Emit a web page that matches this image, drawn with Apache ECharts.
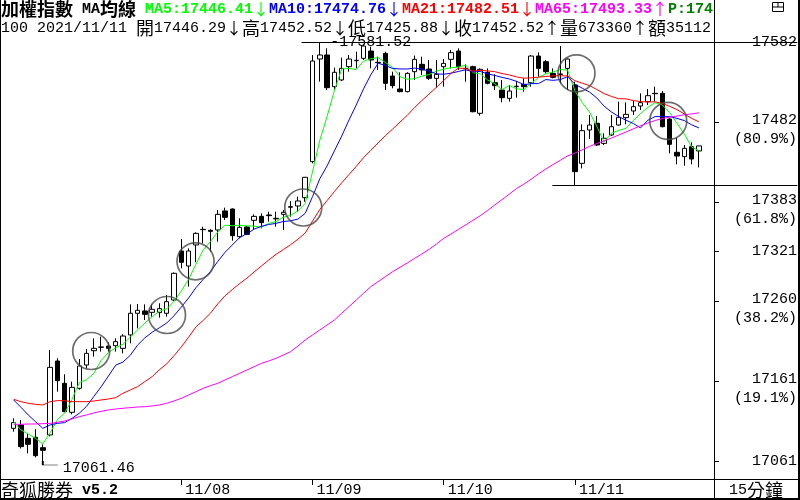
<!DOCTYPE html>
<html>
<head>
<meta charset="utf-8">
<title>加權指數 15分鐘</title>
<script src="https://cdn.jsdelivr.net/npm/echarts@6/dist/echarts.min.js"></script>
<style>
  html, body { margin: 0; padding: 0; background: #fff; }
  #chart { width: 800px; height: 500px; }
</style>
</head>
<body>
<div id="chart"></div>
<script>
// 15分K：11/04 尾盤 5 根 + 11/05 ~ 11/11 每日 18 根
const opens = [
  17102.0, 17106.2, 17089.6, 17090.9, 17078.0, 17093.8, 17185.6, 17157.9, 17121.9, 17151.7,
  17180.6, 17198.4, 17202.6, 17204.2, 17204.6, 17201.3, 17217.9, 17244.8, 17247.7, 17246.0,
  17245.6, 17244.8, 17261.3, 17322.1, 17303.5, 17329.6, 17349.0, 17347.8, 17348.2, 17371.8,
  17374.2, 17339.9, 17351.9, 17360.2, 17365.1, 17366.8, 17362.7, 17367.6, 17377.1, 17378.0,
  17388.3, 17433.0, 17560.4, 17565.4, 17526.1, 17534.4, 17550.9, 17558.3, 17561.2, 17570.3,
  17556.3, 17567.4, 17539.3, 17523.2, 17519.9, 17544.7, 17553.8, 17548.0, 17536.4, 17550.9,
  17560.0, 17570.3, 17548.8, 17550.9, 17493.0, 17543.9, 17531.0, 17521.9, 17511.6, 17526.1,
  17529.0, 17531.0, 17564.1, 17557.1, 17542.6, 17541.8, 17548.8, 17528.1, 17430.9, 17472.3,
  17480.6, 17455.7, 17466.1, 17478.5, 17487.6, 17495.9, 17502.1, 17507.5, 17517.8, 17517.8,
  17485.9, 17444.6, 17439.2, 17451.6, 17446.29
];
const closes = [
  17109.1, 17079.3, 17082.2, 17068.1, 17074.7, 17177.7, 17161.2, 17122.7, 17152.9, 17179.4,
  17195.1, 17201.3, 17203.0, 17201.3, 17209.6, 17216.6, 17244.8, 17248.5, 17243.5, 17249.7,
  17250.6, 17259.2, 17294.4, 17308.1, 17322.1, 17344.0, 17348.6, 17346.5, 17367.6, 17363.9,
  17341.1, 17351.5, 17342.8, 17365.1, 17357.3, 17366.0, 17362.0, 17370.1, 17376.5, 17384.2,
  17413.6, 17557.9, 17565.4, 17524.8, 17543.9, 17548.8, 17560.4, 17558.8, 17576.5, 17559.2,
  17555.8, 17530.2, 17527.3, 17519.9, 17542.6, 17560.0, 17546.8, 17536.4, 17541.4, 17555.0,
  17568.3, 17550.9, 17548.3, 17495.0, 17547.6, 17530.2, 17527.3, 17512.4, 17520.7, 17526.6,
  17526.1, 17564.1, 17548.8, 17544.7, 17537.7, 17541.3, 17560.4, 17420.6, 17471.5, 17478.5,
  17453.7, 17462.0, 17476.4, 17488.0, 17491.7, 17501.3, 17506.2, 17514.9, 17517.3, 17476.4,
  17454.5, 17440.0, 17449.5, 17436.3, 17452.52
];
const lows = [
  17097.9, 17077.0, 17071.0, 17066.0, 17061.46, 17092.0, 17147.5, 17121.9, 17119.4, 17150.0,
  17176.5, 17191.0, 17197.2, 17197.2, 17197.2, 17195.1, 17207.5, 17226.1, 17236.5, 17240.6,
  17239.4, 17240.6, 17260.0, 17300.6, 17277.9, 17308.1, 17331.6, 17321.3, 17333.7, 17360.6,
  17334.9, 17337.8, 17342.0, 17348.2, 17350.3, 17358.5, 17352.3, 17348.2, 17364.7, 17370.9,
  17383.3, 17431.0, 17532.3, 17522.0, 17521.9, 17533.0, 17544.7, 17548.8, 17559.2, 17548.8,
  17546.8, 17521.9, 17524.0, 17519.0, 17519.0, 17534.4, 17540.6, 17534.4, 17524.8, 17526.1,
  17548.8, 17546.8, 17532.3, 17494.2, 17490.1, 17529.0, 17521.9, 17506.6, 17507.5, 17512.4,
  17519.9, 17526.1, 17538.5, 17542.6, 17536.4, 17530.2, 17521.9, 17403.2, 17424.7, 17461.1,
  17452.4, 17453.7, 17464.8, 17477.7, 17479.3, 17490.9, 17497.1, 17503.3, 17507.5, 17475.5,
  17443.3, 17429.7, 17428.0, 17429.7, 17425.88
];
const highs = [
  17114.4, 17112.4, 17095.8, 17100.8, 17082.2, 17199.3, 17188.9, 17169.1, 17160.0, 17188.1,
  17200.5, 17213.7, 17215.8, 17208.8, 17213.7, 17218.7, 17255.9, 17256.3, 17255.9, 17255.9,
  17257.2, 17267.5, 17295.5, 17337.0, 17325.4, 17345.3, 17352.3, 17349.0, 17373.0, 17375.9,
  17375.0, 17362.7, 17353.2, 17367.6, 17368.9, 17370.9, 17370.9, 17373.0, 17384.2, 17389.6,
  17414.0, 17565.4, 17581.52, 17573.7, 17549.7, 17562.1, 17565.4, 17569.5, 17578.0, 17575.7,
  17563.3, 17569.5, 17544.7, 17543.9, 17543.9, 17564.6, 17563.3, 17559.2, 17559.2, 17560.4,
  17571.6, 17573.7, 17553.8, 17552.1, 17548.8, 17548.8, 17541.4, 17534.4, 17528.1, 17533.1,
  17536.4, 17565.4, 17568.7, 17559.2, 17548.8, 17576.5, 17561.0, 17532.3, 17479.3, 17490.9,
  17489.7, 17468.2, 17490.9, 17507.5, 17506.6, 17508.3, 17517.8, 17523.2, 17526.1, 17520.7,
  17486.8, 17462.8, 17453.7, 17457.0, 17452.52
];

// 均線
const ma5 = [
  17110.3, 17100.0, 17095.0, 17089.6, 17082.7, 17096.4, 17112.8, 17120.9, 17137.8, 17158.8,
  17162.3, 17170.3, 17186.3, 17196.0, 17202.1, 17206.4, 17215.1, 17224.2, 17232.6, 17240.6,
  17247.4, 17250.3, 17259.5, 17272.4, 17286.9, 17305.6, 17323.4, 17333.9, 17345.8, 17354.1,
  17353.5, 17354.1, 17353.4, 17352.9, 17351.6, 17356.5, 17358.6, 17364.1, 17366.4, 17371.8,
  17381.3, 17420.5, 17459.5, 17489.2, 17521.1, 17548.2, 17548.7, 17547.3, 17557.7, 17560.7,
  17562.1, 17556.1, 17549.8, 17538.5, 17535.2, 17536.0, 17539.3, 17541.1, 17545.4, 17547.9,
  17549.6, 17550.4, 17552.8, 17543.5, 17542.0, 17534.4, 17529.7, 17522.5, 17527.6, 17523.4,
  17522.6, 17530.0, 17537.3, 17542.1, 17544.3, 17547.3, 17546.6, 17520.9, 17506.3, 17494.5,
  17476.9, 17457.3, 17468.4, 17471.7, 17474.4, 17483.9, 17492.7, 17500.4, 17506.3, 17503.2,
  17493.9, 17480.6, 17467.5, 17451.3, 17446.4
];
const ma10 = [
  17137.2, 17128.1, 17118.6, 17110.3, 17102.0, 17106.2, 17108.2, 17109.1, 17114.4, 17120.7,
  17129.3, 17141.5, 17153.6, 17166.9, 17180.4, 17184.3, 17192.7, 17205.3, 17214.3, 17221.3,
  17226.9, 17232.7, 17241.8, 17252.5, 17263.8, 17276.5, 17286.9, 17296.7, 17309.1, 17320.5,
  17329.6, 17338.8, 17343.6, 17349.3, 17352.8, 17355.0, 17356.4, 17358.7, 17359.6, 17361.7,
  17368.9, 17389.6, 17411.8, 17427.8, 17446.4, 17464.7, 17484.6, 17503.4, 17523.4, 17540.9,
  17555.2, 17552.4, 17548.6, 17548.1, 17548.0, 17549.1, 17547.7, 17545.5, 17542.0, 17541.5,
  17542.8, 17544.9, 17547.0, 17544.5, 17545.0, 17542.0, 17540.0, 17537.6, 17535.6, 17532.7,
  17528.5, 17529.8, 17529.9, 17534.9, 17533.9, 17535.0, 17538.3, 17529.1, 17524.2, 17519.4,
  17512.1, 17501.9, 17494.7, 17489.0, 17484.4, 17480.4, 17475.0, 17484.4, 17489.0, 17488.8,
  17488.9, 17486.7, 17484.0, 17478.8, 17474.9
];
const ma21 = [
  17138.0, 17135.1, 17133.1, 17131.8, 17131.0, 17135.1, 17136.4, 17136.4, 17135.1, 17135.1,
  17135.1, 17135.9, 17137.2, 17138.4, 17140.1, 17145.5, 17149.6, 17153.7, 17160.0, 17166.2,
  17174.8, 17182.0, 17192.2, 17203.0, 17215.1, 17227.9, 17236.0, 17244.9, 17256.5, 17266.6,
  17274.3, 17281.7, 17288.4, 17296.2, 17303.6, 17311.0, 17318.0, 17323.9, 17330.0, 17336.7,
  17344.5, 17359.2, 17373.7, 17384.7, 17395.9, 17406.7, 17417.0, 17427.1, 17438.0, 17447.1,
  17456.3, 17465.3, 17473.6, 17482.1, 17490.5, 17500.2, 17508.8, 17517.1, 17525.3, 17533.8,
  17542.5, 17549.1, 17548.6, 17545.3, 17546.3, 17545.7, 17544.7, 17542.4, 17540.6, 17538.2,
  17536.6, 17537.0, 17537.9, 17538.7, 17539.6, 17539.5, 17539.5, 17533.5, 17530.4, 17527.4,
  17522.6, 17517.5, 17514.0, 17511.1, 17511.0, 17508.8, 17507.6, 17507.0, 17507.3, 17505.2,
  17501.7, 17497.6, 17492.2, 17486.8, 17482.4
];
const ma65 = [
  17107.0, 17107.0, 17107.4, 17107.4, 17107.8, 17108.2, 17109.5, 17111.1, 17113.6, 17116.5,
  17118.6, 17121.1, 17123.1, 17124.8, 17126.0, 17126.9, 17127.7, 17128.5, 17128.9, 17129.8,
  17131.0, 17133.1, 17136.0, 17139.3, 17143.4, 17147.5, 17151.7, 17155.0, 17157.9, 17162.0,
  17166.2, 17170.3, 17174.4, 17178.6, 17182.7, 17185.6, 17188.9, 17193.0, 17197.2, 17204.2,
  17211.7, 17217.9, 17224.1, 17230.3, 17236.5, 17244.8, 17253.0, 17261.3, 17269.6, 17277.9,
  17284.1, 17290.3, 17296.5, 17301.9, 17307.2, 17313.0, 17318.4, 17324.2, 17330.8, 17337.8,
  17343.2, 17349.0, 17354.4, 17360.2, 17365.8, 17372.3, 17379.2, 17385.8, 17392.8, 17399.7,
  17405.1, 17411.3, 17417.8, 17423.8, 17429.4, 17434.7, 17440.2, 17443.6, 17447.7, 17451.9,
  17455.5, 17458.8, 17462.3, 17466.1, 17469.8, 17473.7, 17477.5, 17480.9, 17484.1, 17486.5,
  17488.2, 17489.6, 17491.2, 17492.2, 17493.6
];

// 日期分隔 (每日第一根的序號)
const dayStart = [23, 41, 59, 77];
const dayLabels = ['11/08', '11/09', '11/10', '11/11'];

// 黃金分割刻度
const fibValues = [17581.52, 17482.19, 17382.83, 17321.49, 17260.12, 17160.79, 17061.46];
const fibPct = ['', '80.9%', '61.8%', '', '38.2%', '19.1%', ''];

// 訊號圈
const signalIdx = [10.64, 21.04, 24.95, 39.73, 77.21, 89.8];
const signalPrice = [17198.0, 17242.7, 17309.3, 17376.1, 17542.7, 17483.5];

const HIGH_IDX = 42, LOW_IDX = 4, DROP_IDX = 77;

const MONO = '"Liberation Mono", "DejaVu Sans Mono", monospace';
const CJK = '"Noto Sans CJK TC", "Noto Sans CJK SC", sans-serif';
const Y_MIN = 17037.88, Y_MAX = 17633.65;
const X_MIN = -0.5, X_MAX = 107.6;
// 右側刻度小短線 (在分隔線右邊，以 x 軸座標表示)
const TICK_X0 = 96.15, TICK_X1 = 96.75;

const chart = echarts.init(document.getElementById('chart'));

const candles = opens.map((o, i) => [i, o, closes[i], lows[i], highs[i]]);
const toLine = arr => arr.map((v, i) => [i, v]);

function maSeries(name, arr, color) {
  return {
    name: name,
    type: 'line',
    data: toLine(arr),
    symbol: 'none',
    showSymbol: false,
    silent: true,
    z: 3,
    lineStyle: { color: color, width: 1 },
    itemStyle: { color: color }
  };
}

// 右側刻度文字：有百分比者兩行，第一行略高於刻度
function yLabel(v) {
  const i = fibValues.indexOf(v);
  const num = String(Math.round(v));
  if (i >= 0 && fibPct[i]) {
    return '{gap| }\n{n|' + num + '}\n{n|(' + fibPct[i] + ')}';
  }
  return '{n|' + num + '}';
}

const monoB = 'bold 15px ' + MONO;
const arrowFont = '16px ' + CJK;
const header1 = '{kb|加權指數}{mb| MA}{kb|均線}{mb| }' +
  '{g|MA5:17446.41}{ga|↓}{b|MA10:17474.76}{ba|↓}' +
  '{r|MA21:17482.51}{ra|↓}{p|MA65:17493.33}{pa|↑}{d|P:174}';
const header2 = '{m|100 2021/11/11 }{k|開}{m|17446.29}{a|↓}{k|高}{m|17452.52}{a|↓}' +
  '{k|低}{m|17425.88}{a|↓}{k|收}{m|17452.52}{a|↑}{k|量}{m|673360}{a|↑}{k|額}{m|35112}';

const markLines = [
  [{ coord: [39.5, highs[HIGH_IDX]] }, { coord: [107.5, highs[HIGH_IDX]] }],
  [{ coord: [73.9, lows[DROP_IDX]] }, { coord: [107.5, lows[DROP_IDX]] }]
].concat(fibValues.map(v => [{ coord: [TICK_X0, v] }, { coord: [TICK_X1, v] }]));

const option = {
  animation: false,
  backgroundColor: '#fff',
  grid: { left: 10, right: 2, top: 0, bottom: 20, containLabel: false, outerBoundsMode: 'none' },
  xAxis: {
    type: 'value',
    min: X_MIN,
    max: X_MAX,
    axisLine: { show: false },
    splitLine: { show: false },
    axisTick: { show: true, customValues: dayStart, length: 5, lineStyle: { color: '#000' } },
    axisLabel: {
      customValues: dayStart,
      formatter: v => dayLabels[dayStart.indexOf(v)],
      align: 'left',
      verticalAlign: 'middle',
      margin: 10,
      padding: [0, 0, 0, 4],
      color: '#000',
      fontFamily: MONO,
      fontSize: 15
    }
  },
  yAxis: {
    type: 'value',
    min: Y_MIN,
    max: Y_MAX,
    position: 'right',
    offset: -84,
    axisLine: { show: false },
    splitLine: { show: false },
    axisTick: { show: false },
    axisLabel: {
      customValues: fibValues,
      formatter: yLabel,
      align: 'right',
      margin: 83,
      color: '#000',
      fontFamily: MONO,
      fontSize: 15,
      rich: {
        gap: { fontSize: 1, lineHeight: 15, height: 15 },
        n: { fontFamily: MONO, fontSize: 15, lineHeight: 19, color: '#000' }
      }
    }
  },
  series: [
    {
      name: '加權指數',
      type: 'candlestick',
      data: candles,
      barWidth: 5,
      silent: true,
      z: 2,
      itemStyle: {
        color: '#fff',
        color0: '#000',
        borderColor: '#000',
        borderColor0: '#000',
        borderColorDoji: '#000',
        borderWidth: 1
      },
      markLine: {
        silent: true,
        symbol: 'none',
        label: { show: false },
        lineStyle: { color: '#000', width: 1, type: 'solid' },
        data: markLines
      },
      markPoint: {
        silent: true,
        data: [
          {
            coord: [HIGH_IDX, highs[HIGH_IDX]],
            symbol: 'rect',
            symbolSize: 1,
            itemStyle: { color: 'rgba(0,0,0,0)' },
            label: {
              show: true,
              position: 'right',
              distance: 10,
              formatter: '-' + highs[HIGH_IDX].toFixed(2),
              color: '#000',
              fontFamily: MONO,
              fontSize: 15
            }
          },
          {
            coord: [LOW_IDX, lows[LOW_IDX]],
            symbol: 'path://M0,0L0,4L15,4',
            symbolSize: [15, 4],
            symbolOffset: [7.5, 2],
            itemStyle: { color: 'rgba(0,0,0,0)', borderColor: '#000', borderWidth: 1 },
            label: {
              show: true,
              position: 'right',
              distance: 4,
              offset: [0, 5],
              formatter: lows[LOW_IDX].toFixed(2),
              color: '#000',
              fontFamily: MONO,
              fontSize: 15
            }
          }
        ]
      }
    },
    maSeries('MA5', ma5, '#00ff00'),
    maSeries('MA10', ma10, '#0000ff'),
    maSeries('MA21', ma21, '#ff0000'),
    maSeries('MA65', ma65, '#ff00ff'),
    {
      name: 'signal',
      type: 'scatter',
      data: signalIdx.map((x, i) => [x, signalPrice[i]]),
      symbol: 'circle',
      symbolSize: 37,
      silent: true,
      z: 4,
      itemStyle: { color: 'rgba(0,0,0,0)', borderColor: '#484848', borderWidth: 1.7 }
    }
  ],
  graphic: [
    // 外框與分隔線
    { type: 'line', z: 50, shape: { x1: 0.5, y1: 0, x2: 0.5, y2: 500 }, style: { stroke: '#000', lineWidth: 1 } },
    { type: 'line', z: 50, shape: { x1: 714.5, y1: 0, x2: 714.5, y2: 500 }, style: { stroke: '#000', lineWidth: 1 } },
    { type: 'line', z: 50, shape: { x1: 799, y1: 0, x2: 799, y2: 500 }, style: { stroke: '#000', lineWidth: 2 } },
    { type: 'line', z: 50, shape: { x1: 0, y1: 499, x2: 800, y2: 499 }, style: { stroke: '#000', lineWidth: 2 } },
    { type: 'line', z: 50, shape: { x1: 0, y1: 479.5, x2: 800, y2: 479.5 }, style: { stroke: '#000', lineWidth: 1 } },
    // 右上角視窗圖示
    { type: 'rect', z: 50, shape: { x: 772.5, y: 2.5, width: 11, height: 9 }, style: { fill: 'none', stroke: '#000', lineWidth: 1 } },
    { type: 'line', z: 50, shape: { x1: 778, y1: 2.5, x2: 778, y2: 7 }, style: { stroke: '#000', lineWidth: 1 } },
    { type: 'line', z: 50, shape: { x1: 772.5, y1: 7, x2: 783.5, y2: 7 }, style: { stroke: '#000', lineWidth: 1 } },
    // 標題列
    {
      type: 'text', z: 60, x: 1, y: 9,
      style: {
        text: header1,
        verticalAlign: 'middle',
        align: 'left',
        rich: {
          kb: { font: 'bold 18px ' + CJK, fill: '#000' },
          mb: { font: monoB, fill: '#000' },
          g: { font: monoB, fill: '#00ff00' },
          ga: { font: arrowFont, fill: '#00ff00' },
          b: { font: monoB, fill: '#0000ff' },
          ba: { font: arrowFont, fill: '#0000ff' },
          r: { font: monoB, fill: '#ff0000' },
          ra: { font: arrowFont, fill: '#ff0000' },
          p: { font: monoB, fill: '#ff00ff' },
          pa: { font: arrowFont, fill: '#ff00ff' },
          d: { font: monoB, fill: '#008000' }
        }
      }
    },
    {
      type: 'text', z: 60, x: 1, y: 28,
      style: {
        text: header2,
        verticalAlign: 'middle',
        align: 'left',
        rich: {
          m: { font: '15px ' + MONO, fill: '#000' },
          k: { font: '18px ' + CJK, fill: '#000' },
          a: { font: arrowFont, fill: '#000' }
        }
      }
    },
    // 底列
    {
      type: 'text', z: 60, x: 1, y: 490,
      style: {
        text: '{k|奇狐勝券}{m| v5.2}',
        verticalAlign: 'middle',
        align: 'left',
        rich: {
          k: { font: '18px ' + CJK, fill: '#000' },
          m: { font: 'bold 15px ' + MONO, fill: '#000' }
        }
      }
    },
    {
      type: 'text', z: 60, x: 756, y: 490,
      style: {
        text: '{m|15}{k|分鐘}',
        verticalAlign: 'middle',
        align: 'center',
        rich: {
          k: { font: '18px ' + CJK, fill: '#000' },
          m: { font: '15px ' + MONO, fill: '#000' }
        }
      }
    }
  ]
};

chart.setOption(option);
</script>
</body>
</html>
